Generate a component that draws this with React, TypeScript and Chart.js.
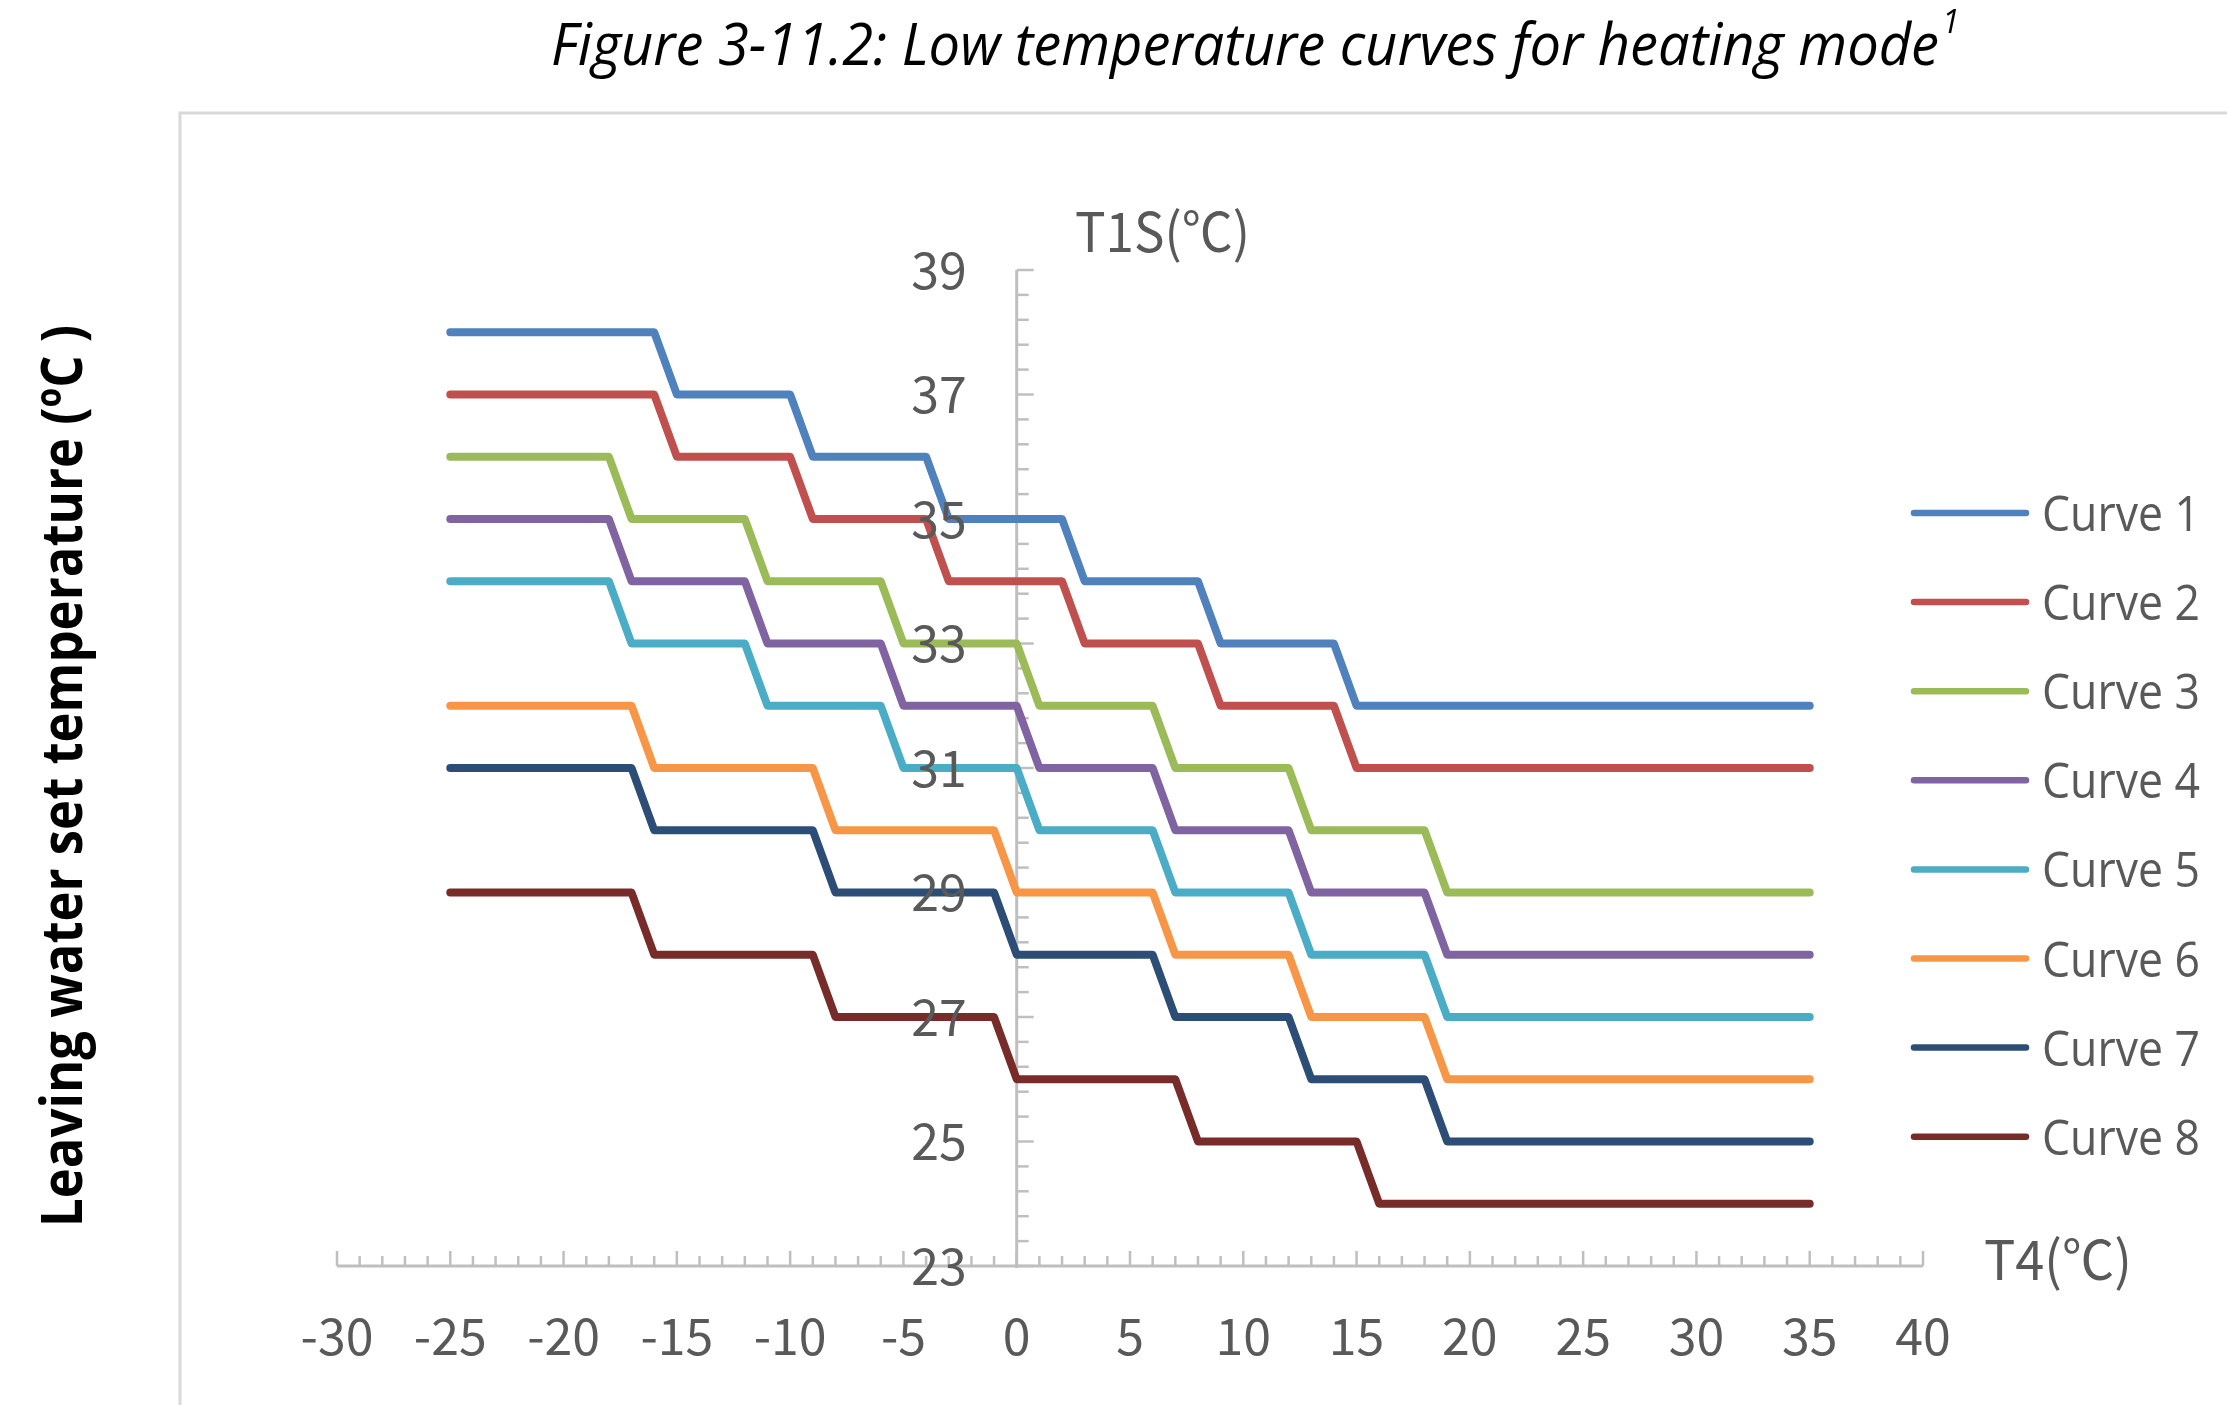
import React, { useEffect, useRef } from "react";
import { Chart, registerables } from "chart.js";

Chart.register(...registerables);

// ---------------- data ----------------
const SERIES_NAMES = ["Curve 1", "Curve 2", "Curve 3", "Curve 4", "Curve 5", "Curve 6", "Curve 7", "Curve 8"];
const SERIES_COLORS = ["#4F81BD", "#C0504D", "#9BBB59", "#8064A2", "#4BACC6", "#F79646", "#2C4D75", "#772C2A"];

const CURVE1_T4 = [-25, -16, -15, -10, -9, -4, -3, 2, 3, 8, 9, 14, 15, 35];
const CURVE1_T1S = [38, 38, 37, 37, 36, 36, 35, 35, 34, 34, 33, 33, 32, 32];

const CURVE2_T4 = [-25, -16, -15, -10, -9, -4, -3, 2, 3, 8, 9, 14, 15, 35];
const CURVE2_T1S = [37, 37, 36, 36, 35, 35, 34, 34, 33, 33, 32, 32, 31, 31];

const CURVE3_T4 = [-25, -18, -17, -12, -11, -6, -5, 0, 1, 6, 7, 12, 13, 18, 19, 35];
const CURVE3_T1S = [36, 36, 35, 35, 34, 34, 33, 33, 32, 32, 31, 31, 30, 30, 29, 29];

const CURVE4_T4 = [-25, -18, -17, -12, -11, -6, -5, 0, 1, 6, 7, 12, 13, 18, 19, 35];
const CURVE4_T1S = [35, 35, 34, 34, 33, 33, 32, 32, 31, 31, 30, 30, 29, 29, 28, 28];

const CURVE5_T4 = [-25, -18, -17, -12, -11, -6, -5, 0, 1, 6, 7, 12, 13, 18, 19, 35];
const CURVE5_T1S = [34, 34, 33, 33, 32, 32, 31, 31, 30, 30, 29, 29, 28, 28, 27, 27];

const CURVE6_T4 = [-25, -17, -16, -9, -8, -1, 0, 6, 7, 12, 13, 18, 19, 35];
const CURVE6_T1S = [32, 32, 31, 31, 30, 30, 29, 29, 28, 28, 27, 27, 26, 26];

const CURVE7_T4 = [-25, -17, -16, -9, -8, -1, 0, 6, 7, 12, 13, 18, 19, 35];
const CURVE7_T1S = [31, 31, 30, 30, 29, 29, 28, 28, 27, 27, 26, 26, 25, 25];

const CURVE8_T4 = [-25, -17, -16, -9, -8, -1, 0, 7, 8, 15, 16, 35];
const CURVE8_T1S = [29, 29, 28, 28, 27, 27, 26, 26, 25, 25, 24, 24];

const X_TICK_LABELS = [-30, -25, -20, -15, -10, -5, 0, 5, 10, 15, 20, 25, 30, 35, 40];
const Y_TICK_LABELS = [23, 25, 27, 29, 31, 33, 35, 37, 39];
const X_MINOR_STEP = 1;
const Y_MINOR_STEP = 0.4;

const TITLE = "Figure 3-11.2: Low temperature curves for heating mode";
const TITLE_SUP = "1";
const Y_TITLE = "Leaving water set temperature (ºC )";
const Y_AXIS_NAME = "T1S(℃)";
const X_AXIS_NAME = "T4(℃)";

const CURVES_T4 = [CURVE1_T4, CURVE2_T4, CURVE3_T4, CURVE4_T4, CURVE5_T4, CURVE6_T4, CURVE7_T4, CURVE8_T4];
const CURVES_T1S = [CURVE1_T1S, CURVE2_T1S, CURVE3_T1S, CURVE4_T1S, CURVE5_T1S, CURVE6_T1S, CURVE7_T1S, CURVE8_T1S];

// ---------------- style ----------------
const FONT = "'Open Sans', 'Noto Sans CJK SC', 'DejaVu Sans', sans-serif";
const NARROW_FONT = "'Noto Sans CJK SC', 'Open Sans', sans-serif";
const AXIS_COLOR = "#bfbfbf";
const TEXT_COLOR = "#595959";

type TextOpts = {
  size: number;
  color: string;
  weight?: string;
  style?: string;
  align?: "left" | "center" | "right";
  vcenter?: boolean;
  width?: number;
  sx?: number;
  family?: string;
};

function drawText(ctx: CanvasRenderingContext2D, text: string, x: number, y: number, o: TextOpts) {
  ctx.save();
  ctx.font = `${o.style || "normal"} ${o.weight || "normal"} ${o.size}px ${o.family || FONT}`;
  ctx.fillStyle = o.color;
  ctx.textBaseline = "alphabetic";
  ctx.textAlign = "left";
  const m = ctx.measureText(text);
  const w = m.width;
  const sx = o.width ? o.width / w : o.sx || 1;
  const dw = w * sx;
  let left = x;
  if (o.align === "center") left = x - dw / 2;
  else if (o.align === "right") left = x - dw;
  let base = y;
  if (o.vcenter) {
    const asc = ctx.measureText("0").actualBoundingBoxAscent;
    base = y + asc / 2;
  }
  ctx.translate(left, base);
  ctx.scale(sx, 1);
  ctx.fillText(text, 0, 0);
  ctx.restore();
  return dw;
}

function measure(ctx: CanvasRenderingContext2D, text: string, size: number, family = FONT) {
  ctx.save();
  ctx.font = `normal normal ${size}px ${family}`;
  const m = ctx.measureText(text);
  ctx.restore();
  return m;
}

const decorPlugin = {
  id: "excelDecor",
  beforeDatasetsDraw(chart: any) {
    const ctx: CanvasRenderingContext2D = chart.ctx;
    const xs = chart.scales.x;
    const ys = chart.scales.y;
    ctx.save();
    // chart border
    ctx.strokeStyle = "#d9d9d9";
    ctx.lineWidth = 3;
    ctx.strokeRect(180, 113, 2400, 1600);

    const x0 = xs.getPixelForValue(0);
    const yb = ys.getPixelForValue(Y_TICK_LABELS[0]);
    const yt = ys.getPixelForValue(Y_TICK_LABELS[Y_TICK_LABELS.length - 1]);
    const xl = xs.getPixelForValue(X_TICK_LABELS[0]);
    const xr = xs.getPixelForValue(X_TICK_LABELS[X_TICK_LABELS.length - 1]);

    ctx.strokeStyle = AXIS_COLOR;
    ctx.lineCap = "butt";
    ctx.lineWidth = 2.5;
    const yMin = Y_TICK_LABELS[0];
    const yMax = Y_TICK_LABELS[Y_TICK_LABELS.length - 1];
    const nY = Math.round((yMax - yMin) / Y_MINOR_STEP);
    for (let i = 0; i <= nY; i++) {
      const v = yMin + i * Y_MINOR_STEP;
      const y = ys.getPixelForValue(v);
      const major = i % 5 === 0;
      ctx.beginPath();
      ctx.moveTo(x0, y);
      ctx.lineTo(x0 + (major ? 17 : 12), y);
      ctx.stroke();
    }
    const xMin = X_TICK_LABELS[0];
    const xMax = X_TICK_LABELS[X_TICK_LABELS.length - 1];
    const nX = Math.round((xMax - xMin) / X_MINOR_STEP);
    for (let i = 0; i <= nX; i++) {
      const v = xMin + i * X_MINOR_STEP;
      const x = xs.getPixelForValue(v);
      const major = v % 5 === 0;
      ctx.beginPath();
      ctx.moveTo(x, yb);
      ctx.lineTo(x, yb - (major ? 15 : 10));
      ctx.stroke();
    }
    ctx.lineWidth = 3;
    ctx.beginPath();
    ctx.moveTo(x0, yt);
    ctx.lineTo(x0, yb + 2);
    ctx.stroke();
    ctx.beginPath();
    ctx.moveTo(xl, yb);
    ctx.lineTo(xr, yb);
    ctx.stroke();
    ctx.restore();
  },
  afterDatasetsDraw(chart: any) {
    const ctx: CanvasRenderingContext2D = chart.ctx;
    const xs = chart.scales.x;
    const ys = chart.scales.y;
    const x0 = xs.getPixelForValue(0);
    const yb = ys.getPixelForValue(Y_TICK_LABELS[0]);
    const tickSize = 50;

    // tick labels
    Y_TICK_LABELS.forEach((v) => {
      drawText(ctx, String(v), x0 - 50, ys.getPixelForValue(v), {
        size: tickSize,
        color: TEXT_COLOR,
        align: "right",
        vcenter: true,
        family: NARROW_FONT,
      });
    });
    X_TICK_LABELS.forEach((v) => {
      drawText(ctx, String(v), xs.getPixelForValue(v), yb + 70, {
        size: tickSize,
        color: TEXT_COLOR,
        align: "center",
        vcenter: true,
        family: NARROW_FONT,
      });
    });

    // axis names
    drawText(ctx, Y_AXIS_NAME, 1075, 232, { size: 54, color: TEXT_COLOR, vcenter: true, family: NARROW_FONT, width: 175 });
    drawText(ctx, X_AXIS_NAME, 1984, 1260, { size: 54, color: TEXT_COLOR, vcenter: true, family: NARROW_FONT, width: 148 });

    // title
    const tw = drawText(ctx, TITLE, 551, 65, { size: 58, color: "#000", style: "italic", width: 1388 });
    drawText(ctx, TITLE_SUP, 551 + tw + 3, 33, { size: 32, color: "#000", style: "italic" });

    // rotated y title
    ctx.save();
    ctx.translate(82, 1227);
    ctx.rotate(-Math.PI / 2);
    drawText(ctx, Y_TITLE, 0, 0, { size: 57, color: "#000", weight: "bold", width: 902 });
    ctx.restore();

    // legend
    const legSize = 50;
    const legScale = 158 / measure(ctx, SERIES_NAMES[0], legSize).width;
    chart.data.datasets.forEach((ds: any, i: number) => {
      const yc = 513 + i * 89.1;
      ctx.save();
      ctx.strokeStyle = ds.borderColor;
      ctx.lineWidth = 6.5;
      ctx.lineCap = "round";
      ctx.beginPath();
      ctx.moveTo(1914, yc);
      ctx.lineTo(2026, yc);
      ctx.stroke();
      ctx.restore();
      drawText(ctx, ds.label, 2042, yc, { size: legSize, color: TEXT_COLOR, sx: legScale, vcenter: true });
    });
  },
};

export default function App() {
  const ref = useRef<HTMLCanvasElement>(null);

  useEffect(() => {
    const canvas = ref.current;
    if (!canvas) return;
    const datasets = SERIES_NAMES.map((name, i) => ({
      label: name,
      data: CURVES_T4[i].map((x, j) => ({ x, y: CURVES_T1S[i][j] })),
      borderColor: SERIES_COLORS[i],
      backgroundColor: SERIES_COLORS[i],
      borderWidth: 8,
      pointRadius: 0,
      pointHoverRadius: 0,
      tension: 0,
      fill: false,
      borderJoinStyle: "round" as const,
      borderCapStyle: "round" as const,
    }));

    const chart = new Chart(canvas, {
      type: "line",
      data: { datasets },
      options: {
        animation: false,
        responsive: false,
        devicePixelRatio: 1,
        events: [],
        layout: { padding: { left: 337, right: 304, top: 270, bottom: 139 } },
        scales: {
          x: { type: "linear", min: X_TICK_LABELS[0], max: X_TICK_LABELS[X_TICK_LABELS.length - 1], display: false },
          y: { type: "linear", min: Y_TICK_LABELS[0], max: Y_TICK_LABELS[Y_TICK_LABELS.length - 1], display: false },
        },
        plugins: {
          legend: { display: false },
          title: { display: false },
          tooltip: { enabled: false },
        },
      },
      plugins: [decorPlugin],
    } as any);
    return () => chart.destroy();
  }, []);

  return (
    <div style={{ position: "absolute", left: 0, top: 0, width: 2227, height: 1405, overflow: "hidden", background: "#fff" }}>
      <canvas ref={ref} width={2227} height={1405} style={{ display: "block" }} />
    </div>
  );
}
